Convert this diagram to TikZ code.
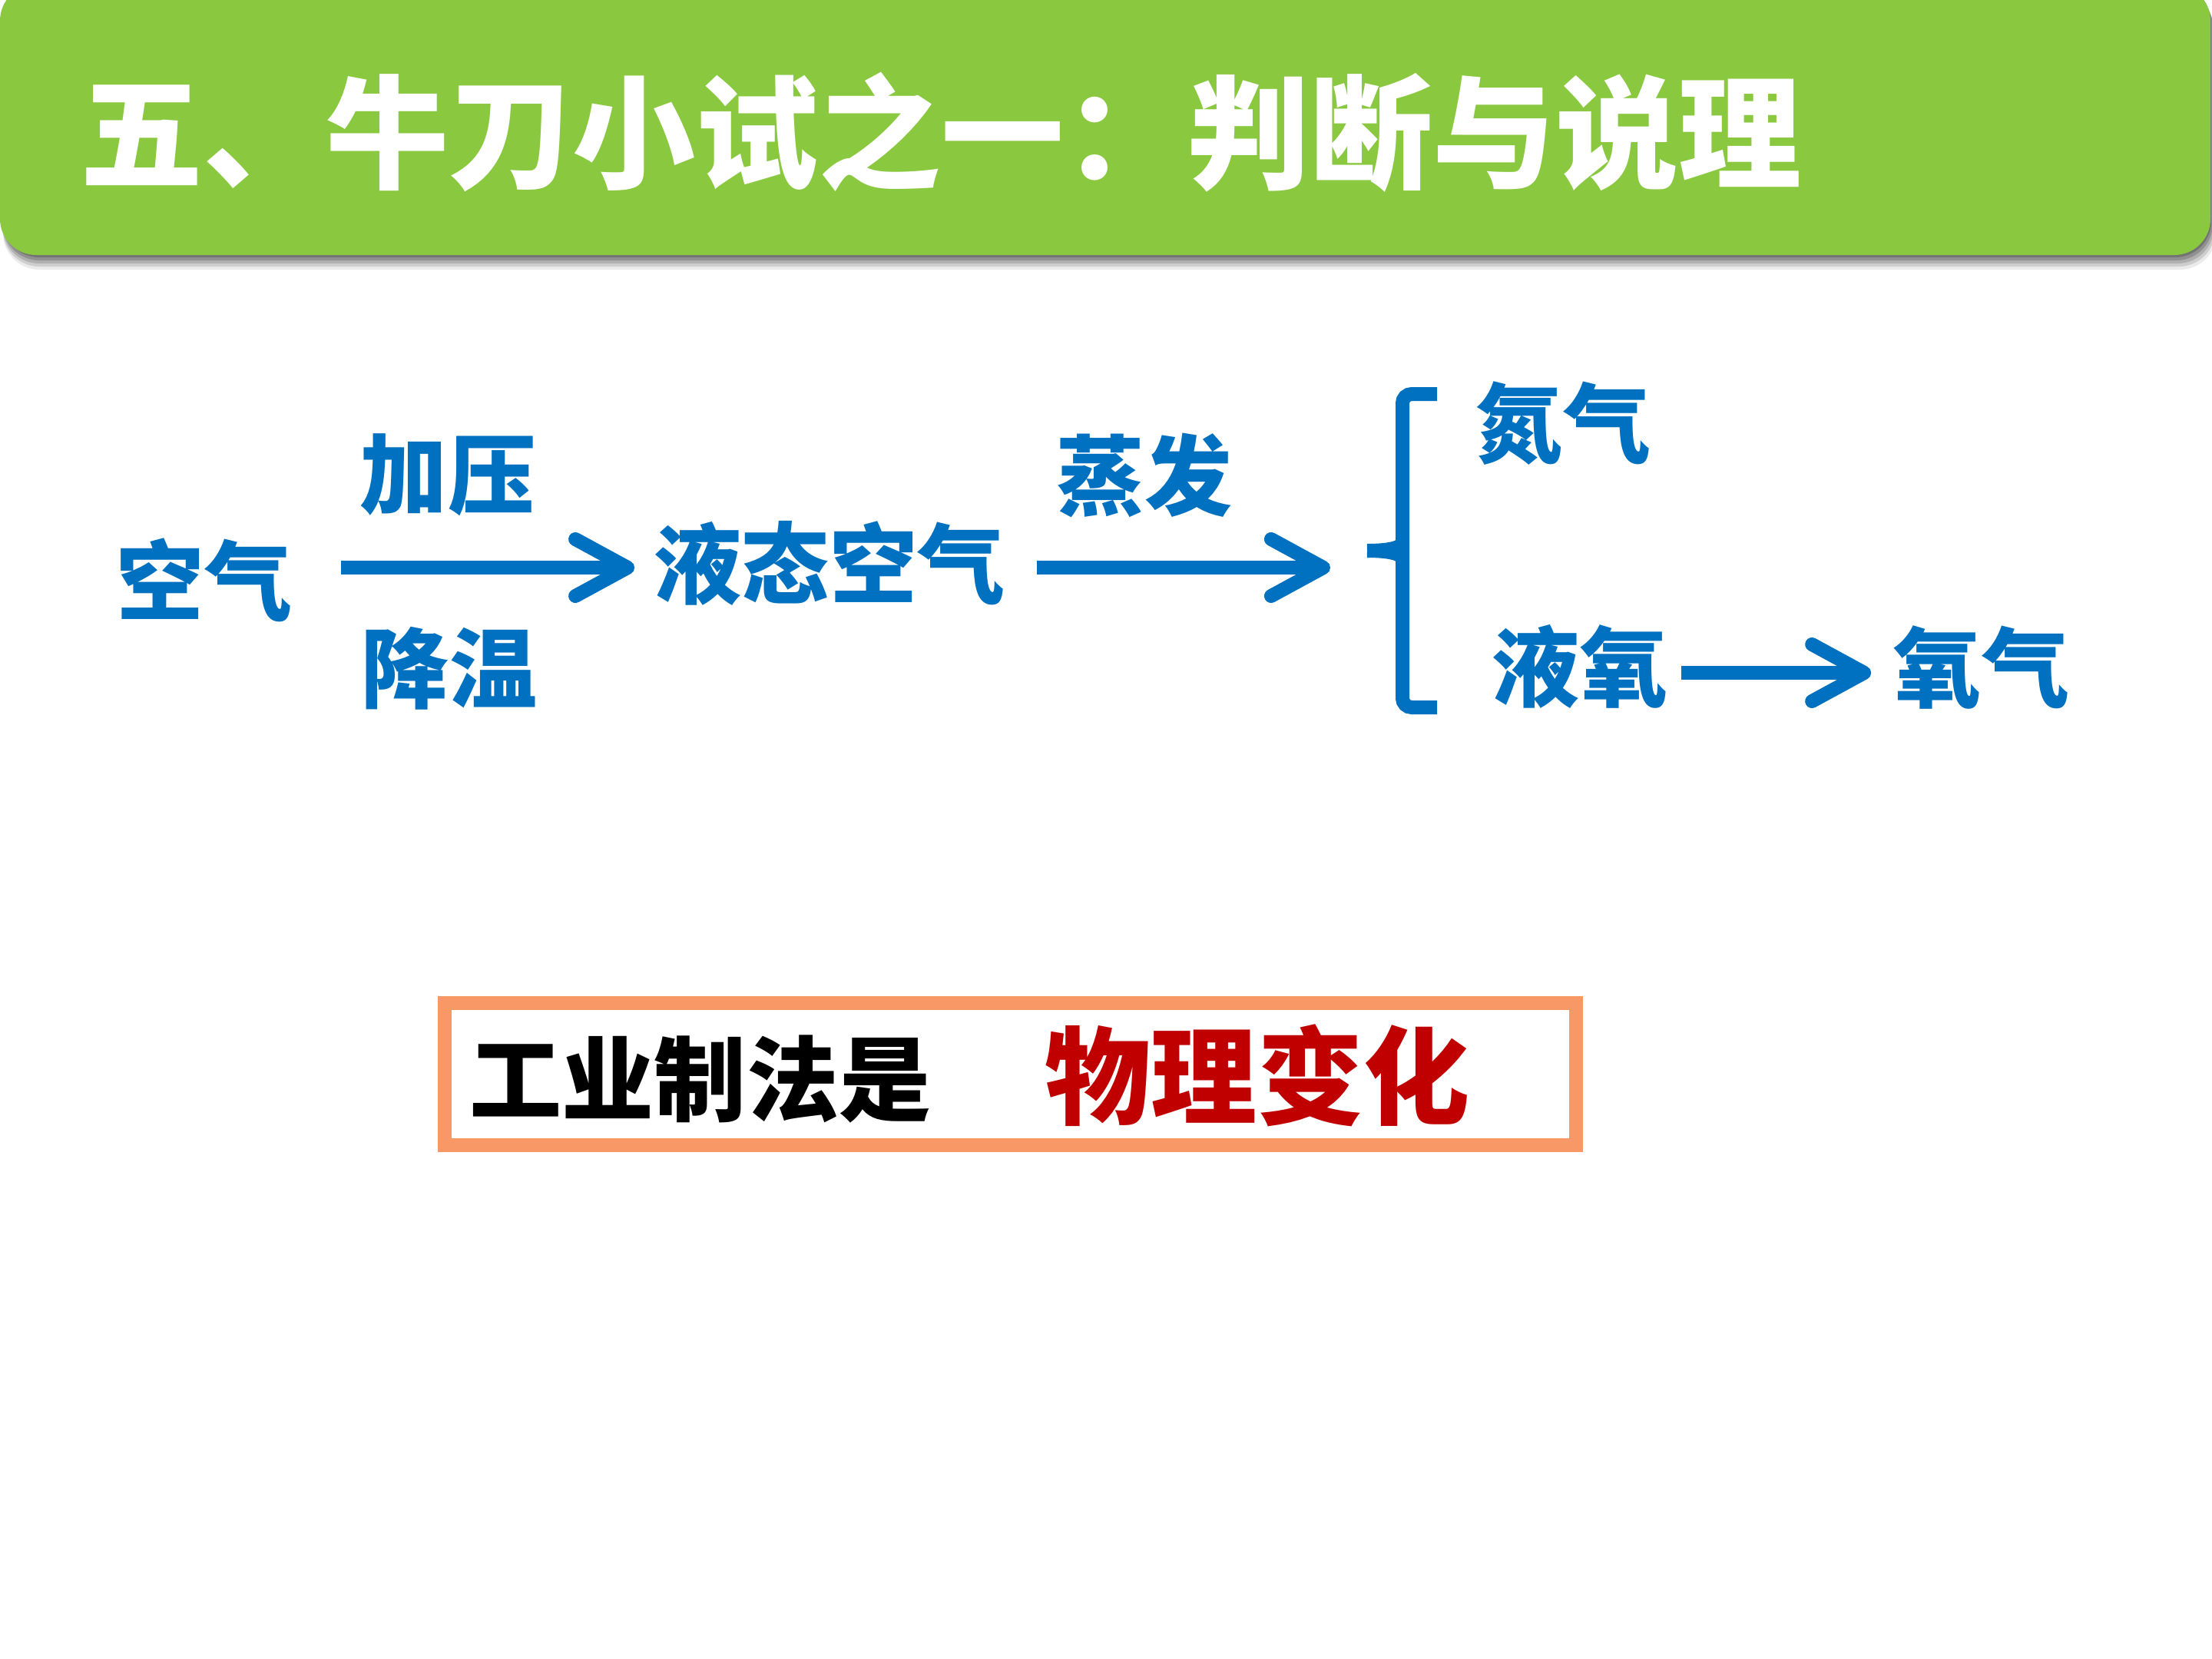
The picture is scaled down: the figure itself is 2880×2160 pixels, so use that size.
\documentclass[tikz,border=0pt]{standalone}
\usepackage{fontspec}
\setmainfont{Noto Sans CJK SC}
\usetikzlibrary{arrows.meta}
\definecolor{barg}{RGB}{138,201,63}
\definecolor{bl}{RGB}{0,112,192}
\definecolor{org}{RGB}{247,152,102}
\definecolor{dred}{RGB}{192,0,0}
\tikzset{
  lbl/.style={inner sep=0pt, text=bl, font=\bfseries\fontsize{1.14cm}{1.3cm}\selectfont},
  conn/.style={draw=bl, line width=0.18cm, -{Straight Barb[length=0.68cm,width=0.74cm,round]}},
  bracestyle/.style={draw=bl, line width=0.18cm},
}
\begin{document}
\begin{tikzpicture}[x=0.01cm,y=-0.01cm]
\useasboundingbox (0,0) rectangle (2880,2160);
% title bar shadow
\foreach \d/\o in {3/0.2,7/0.18,11/0.15,15/0.12,19/0.08}{
  \fill[black, opacity=\o, rounded corners=0.47cm] (4,-20+\d) rectangle (2878+0.4*\d,332+\d);
}
\fill[barg, rounded corners=0.47cm] (0,-20) rectangle (2878,332);
\node[anchor=west, inner sep=0pt, text=white, font=\bfseries\fontsize{1.6cm}{1.8cm}\selectfont] (title) at (104,172) {五、牛刀小试之一：判断与说理};

% diagram
\coordinate (r1) at (0,739);
\coordinate (r3) at (0,876);
\node[lbl] (kq) at (266,755) {空气};
\node[lbl] (jy) at (583,618) {加压};
\node[lbl] (jw) at (585,870) {降温};
\node[lbl] (ytkq) at (1080,733) {液态空气};
\node[lbl] (zf) at (1490,619) {蒸发};
\node[lbl] (dq) at (2035,551) {氮气};
\node[lbl] (yy) at (2057,868) {液氧};
\node[lbl] (yq) at (2580,869) {氧气};

% brace
\draw[bracestyle, rounded corners=0.12cm] (1871,513) -- (1826,513) -- (1826,921) -- (1871,921);
\draw[bracestyle] (1780,717) .. controls (1805,717) and (1826,714) .. (1826,705);
\draw[bracestyle] (1780,717) .. controls (1805,717) and (1826,720) .. (1826,729);
\coordinate (brtip) at (1780,717);

\draw[conn, shorten <=0.63cm, shorten >=0.25cm] (kq.east |- r1) -- (ytkq.west |- r1);
\draw[conn, shorten <=0.41cm, shorten >=0.48cm] (ytkq.east |- r1) -- (brtip |- r1);
\draw[conn, shorten <=0.17cm, shorten >=0.29cm] (yy.east |- r3) -- (yq.west |- r3);

% box
\node[draw=org, line width=0.18cm, minimum width=14.73cm, minimum height=1.85cm, inner sep=0pt] (box) at (1315.5,1398.5) {};
\node[inner sep=0pt, text=black, font=\bfseries\fontsize{1.2cm}{1.3cm}\selectfont] (gy) at (912,1405) {工业制法是};
\node[inner sep=0pt, text=dred, font=\bfseries\fontsize{1.38cm}{1.5cm}\selectfont] (wl) at (1637,1400) {物理变化};
\end{tikzpicture}
\end{document}
